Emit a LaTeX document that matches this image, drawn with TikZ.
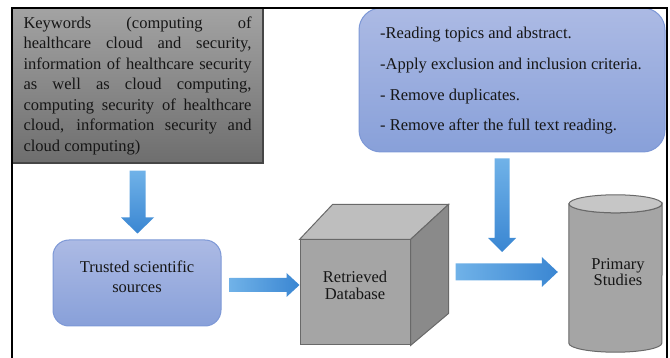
\documentclass[tikz,border=0pt]{standalone}
\usepackage{fontspec}
\setmainfont{Liberation Serif}
\usetikzlibrary{calc}
\definecolor{txtc}{RGB}{22,22,22}
\definecolor{kwtop}{RGB}{163,163,163}
\definecolor{kwbot}{RGB}{110,110,110}
\definecolor{kwborder}{RGB}{70,70,70}
\definecolor{bluetop}{RGB}{172,186,228}
\definecolor{bluebot}{RGB}{136,160,217}
\definecolor{blueborder}{RGB}{125,152,214}
\definecolor{cubefrontc}{RGB}{165,165,165}
\definecolor{cubetopc}{RGB}{190,190,190}
\definecolor{cubesidec}{RGB}{138,138,138}
\definecolor{greyborder}{RGB}{105,105,105}
\definecolor{cyltopc}{RGB}{198,198,198}
\definecolor{arrowlight}{RGB}{112,178,232}
\definecolor{arrowdark}{RGB}{58,134,210}
\begin{document}
\begin{tikzpicture}[x=1pt,y=1pt,
  txt/.style={text=txtc, inner sep=0pt, align=center},
  kwbox/.style={draw=kwborder, line width=1.2pt, top color=kwtop, bottom color=kwbot,
    minimum width=251pt, minimum height=155pt, inner sep=0pt, align=left, text=txtc,
    font=\fontsize{16.5}{20.5}\selectfont},
  bluebox/.style={draw=blueborder, line width=1pt, top color=bluetop, bottom color=bluebot, inner sep=0pt},
  greybox/.style={draw=greyborder, line width=1pt},
  varrow/.style={top color=arrowlight, bottom color=arrowdark},
  harrow/.style={left color=arrowlight, right color=arrowdark},
  frame/.style={draw=black, line width=2.4pt, line join=miter}
]
\useasboundingbox (0,0) rectangle (670,-358);

% keywords box
\node[kwbox] (kw) at (137.5,-85.5) {%
\makebox[228pt][s]{Keywords (computing of}\\
\makebox[228pt][s]{healthcare cloud and security,}\\
\makebox[228pt][s]{information of healthcare security}\\
\makebox[228pt][s]{as well as cloud computing,}\\
\makebox[228pt][s]{computing security of healthcare}\\
\makebox[228pt][s]{cloud, information security and}\\
cloud computing)};

% criteria box
\node[bluebox, rounded corners=22pt, minimum width=306pt, minimum height=144pt] (bb) at (512,-80) {};
\node[txt, align=left, font=\fontsize{16.5}{30.7}\selectfont] (bbt) at (511,-81) {%
-Reading topics and abstract.\\
-Apply exclusion and inclusion criteria.\\
- Remove duplicates.\\
- Remove after the full text reading.};

% trusted sources
\node[bluebox, rounded corners=16pt, minimum width=168pt, minimum height=86pt] (ts) at (137,-283) {};
\node[txt, font=\fontsize{16.5}{20}\selectfont] (tst) at ($(ts)+(0,6)$) {Trusted scientific\\sources};

% cube
\node[greybox, fill=cubefrontc, minimum width=110pt, minimum height=105pt, inner sep=0pt] (db) at (355,-292.5) {};
\filldraw[greybox, fill=cubetopc] (db.north west) -- ++(33,35) -- ($(db.north east)+(38,35)$) -- (db.north east) -- cycle;
\filldraw[greybox, fill=cubesidec] (db.north east) -- ++(38,35) -- ($(db.south east)+(38,32)$) -- (db.south east) -- cycle;
\node[txt, font=\fontsize{16.5}{16.5}\selectfont] (dbt) at ($(db)+(0,7)$) {Retrieved\\Database};

% cylinder
\node[inner sep=0pt, minimum width=93pt, minimum height=157pt] (ps) at (615.5,-273.5) {};
\filldraw[greybox, fill=cubefrontc] ($(ps.north west)+(0,-9)$) -- ($(ps.south west)+(0,9)$)
  arc[start angle=180, end angle=360, x radius=46.5, y radius=9]
  -- ($(ps.north east)+(0,-9)$)
  arc[start angle=0, end angle=-180, x radius=46.5, y radius=9] -- cycle;
\filldraw[greybox, fill=cyltopc] ($(ps.north)+(0,-9)$) ellipse[x radius=46.5, y radius=9];
\node[txt, font=\fontsize{16.5}{15.5}\selectfont] (pst) at (618,-272) {Primary\\Studies};

\coordinate (mrg) at (502,-252);

% arrows
\shade[varrow] let \p1=($(kw.south)+(0,-7)$), \p2=($(ts.north)+(0,6)$) in
  (\x1-8pt,\y1) -- (\x1+8pt,\y1) -- (\x1+8pt,\y2+16pt) -- (\x1+16.5pt,\y2+16pt)
  -- (\x1,\y2) -- (\x1-16.5pt,\y2+16pt) -- (\x1-8pt,\y2+16pt) -- cycle;
\shade[harrow] let \p1=($(ts.east)+(8,-2)$), \p2=(db.west) in
  (\x1,\y1+7pt) -- (\x2-13pt,\y1+7pt) -- (\x2-13pt,\y1+12pt) -- (\x2,\y1)
  -- (\x2-13pt,\y1-12pt) -- (\x2-13pt,\y1-7pt) -- (\x1,\y1-7pt) -- cycle;
\shade[harrow] let \p1=($(db.east)+(45,20.5)$), \p2=($(ps.west)+(-11,0)$) in
  (\x1,\y1+8.5pt) -- (\x2-16pt,\y1+8.5pt) -- (\x2-16pt,\y1+15pt) -- (\x2,\y1)
  -- (\x2-16pt,\y1-15pt) -- (\x2-16pt,\y1-8.5pt) -- (\x1,\y1-8.5pt) -- cycle;
\shade[varrow] let \p1=($(bb.south)+(-10,-6)$), \p2=(mrg) in
  (\x1-7.5pt,\y1) -- (\x1+7.5pt,\y1) -- (\x1+7.5pt,\y2+14pt) -- (\x1+14pt,\y2+14pt)
  -- (\x1,\y2) -- (\x1-14pt,\y2+14pt) -- (\x1-7.5pt,\y2+14pt) -- cycle;

% frame
\draw[frame] (12,-365) -- (12,-8) -- (667,-8) -- (667,-365);
\end{tikzpicture}
\end{document}
